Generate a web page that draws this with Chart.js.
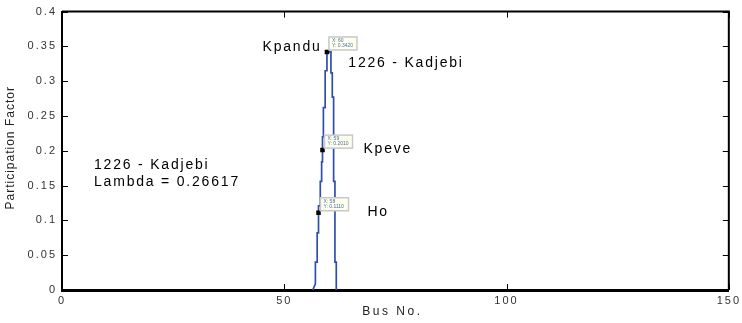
<!DOCTYPE html>
<html>
<head>
<meta charset="utf-8">
<script src="https://cdn.jsdelivr.net/npm/chart.js@4"></script>
<style>
  html, body { margin: 0; padding: 0; background: #fff; }
  #wrap { width: 742px; height: 323px; }
</style>
</head>
<body>
<div id="wrap"><canvas id="grafico"></canvas></div>
<script>
// participation factor vs bus number
// (the trace climbs the left edge of the spike and comes down the right one)
const busNo = [56.4, 57.0, 57.0, 57.4, 57.4, 57.7, 57.7, 57.7, 58.1, 58.1, 58.4, 58.4, 58.6, 58.6, 58.6, 58.8,
    58.8, 59.2, 59.2, 59.6, 59.6, 60.5, 60.5, 60.8, 60.8, 61.1, 61.1, 61.4, 61.4, 61.7, 61.7];
const fator = [0, 0.009, 0.040, 0.040, 0.082, 0.082, 0.111, 0.121, 0.121, 0.156, 0.156, 0.184, 0.184, 0.201, 0.220, 0.220,
    0.262, 0.262, 0.315, 0.315, 0.342, 0.342, 0.312, 0.312, 0.277, 0.277, 0.156, 0.156, 0.040, 0.040, 0];
// points with a data tip: Kpandu, Kpeve, Ho
const pontosMarcados = [20, 13, 6];

const xTicks = [0, 50, 100, 150];
const yTicks = [0, 0.05, 0.1, 0.15, 0.2, 0.25, 0.3, 0.35, 0.4];

const rotulos = [
    { texto: "Kpandu", x: 58.4, y: 0.349, align: "right" },
    { texto: "1226 - Kadjebi", x: 64.4, y: 0.326, align: "left" },
    { texto: "Kpeve", x: 67.8, y: 0.203, align: "left" },
    { texto: "Ho", x: 68.7, y: 0.112, align: "left" },
    { texto: "1226 - Kadjebi", x: 7.2, y: 0.180, align: "left" },
    { texto: "Lambda = 0.26617", x: 7.2, y: 0.155, align: "left" },
];

const pontos = busNo.map((b, i) => ({ x: b, y: fator[i] }));
const raios = busNo.map((b, i) => (pontosMarcados.includes(i) ? 2 : 0));

const molduraPlugin = {
    id: "moldura",
    beforeDraw(chart) {
        chart.ctx.letterSpacing = "2px";
    },
    afterDatasetsDraw(chart) {
        const { ctx, chartArea: a, scales } = chart;
        ctx.save();
        // ticks pointing inwards on all four sides
        ctx.strokeStyle = "#000";
        ctx.lineWidth = 1;
        ctx.beginPath();
        xTicks.forEach((t) => {
            const px = Math.round(scales.x.getPixelForValue(t)) + 0.5;
            ctx.moveTo(px, a.bottom); ctx.lineTo(px, a.bottom - 6);
            ctx.moveTo(px, a.top); ctx.lineTo(px, a.top + 6);
        });
        yTicks.forEach((t) => {
            const py = Math.round(scales.y.getPixelForValue(t)) + 0.5;
            ctx.moveTo(a.left, py); ctx.lineTo(a.left + 6, py);
            ctx.moveTo(a.right, py); ctx.lineTo(a.right - 6, py);
        });
        ctx.stroke();
        ctx.lineWidth = 2;
        ctx.beginPath();
        ctx.moveTo(a.left, a.top); ctx.lineTo(a.right, a.top); ctx.lineTo(a.right, a.bottom);
        ctx.stroke();

        // data tip boxes
        ctx.letterSpacing = "0px";
        pontosMarcados.forEach((i) => {
            const px = scales.x.getPixelForValue(busNo[i]);
            const py = scales.y.getPixelForValue(fator[i]);
            const bx = px + 2, by = py - 15, bw = 28, bh = 13;
            ctx.fillStyle = "#fffff0";
            ctx.fillRect(bx, by, bw, bh);
            ctx.strokeStyle = "#c8c8c8";
            ctx.lineWidth = 1.5;
            ctx.strokeRect(bx, by, bw, bh);
            ctx.fillStyle = "#4a6fa0";
            ctx.font = "5px 'Liberation Sans'";
            ctx.textBaseline = "middle";
            ctx.textAlign = "left";
            ctx.fillText("X: " + Math.round(busNo[i]), bx + 3, by + 4);
            ctx.fillText("Y: " + fator[i].toFixed(4), bx + 3, by + 9);
        });

        // annotations
        ctx.fillStyle = "#000";
        ctx.font = "14px 'Liberation Sans'";
        ctx.letterSpacing = "1.8px";
        rotulos.forEach((r) => {
            ctx.textAlign = r.align;
            ctx.fillText(r.texto, scales.x.getPixelForValue(r.x), scales.y.getPixelForValue(r.y));
        });

        // axis titles
        ctx.fillStyle = "#222";
        ctx.font = "12px 'Liberation Sans'";
        ctx.letterSpacing = "2.5px";
        ctx.textAlign = "center";
        ctx.fillText("Bus No.", (a.left + a.right) / 2 - 3, 312);
        ctx.letterSpacing = "1px";
        ctx.translate(11, (a.top + a.bottom) / 2 - 3);
        ctx.rotate(-Math.PI / 2);
        ctx.fillText("Participation Factor", 0, 0);
        ctx.restore();
    },
};

new Chart(document.getElementById("grafico").getContext("2d"), {
    type: "line",
    data: {
        datasets: [
            {
                data: pontos,
                borderColor: "#2f4fa8",
                borderWidth: 1.7,
                pointRadius: raios,
                pointStyle: "rect",
                pointBackgroundColor: "#000",
                pointBorderColor: "#000",
                fill: false,
                tension: 0,
            },
        ],
    },
    options: {
        responsive: true,
        maintainAspectRatio: false,
        animation: false,
        layout: { padding: { top: 8, right: 12, left: 0, bottom: 0 } },
        plugins: { legend: { display: false }, tooltip: { enabled: false } },
        scales: {
            x: {
                type: "linear",
                min: 0,
                max: 150,
                afterBuildTicks: (s) => { s.ticks = xTicks.map((v) => ({ value: v })); },
                afterFit: (s) => { s.height = 33; },
                grid: { display: false, drawTicks: false },
                border: { display: true, color: "#000", width: 3 },
                ticks: {
                    color: "#333",
                    font: { family: "Liberation Sans", size: 11 },
                    padding: 4,
                    maxRotation: 0,
                    callback: (v) => String(v),
                },
            },
            y: {
                min: 0,
                max: 0.4,
                afterBuildTicks: (s) => { s.ticks = yTicks.map((v) => ({ value: v })); },
                afterFit: (s) => { s.width = 62; },
                grid: { display: false, drawTicks: false },
                border: { display: true, color: "#000", width: 2 },
                ticks: {
                    color: "#333",
                    font: { family: "Liberation Sans", size: 11 },
                    padding: 5,
                    callback: (v) => String(+v.toFixed(2)),
                },
            },
        },
    },
    plugins: [molduraPlugin],
});
</script>
</body>
</html>
